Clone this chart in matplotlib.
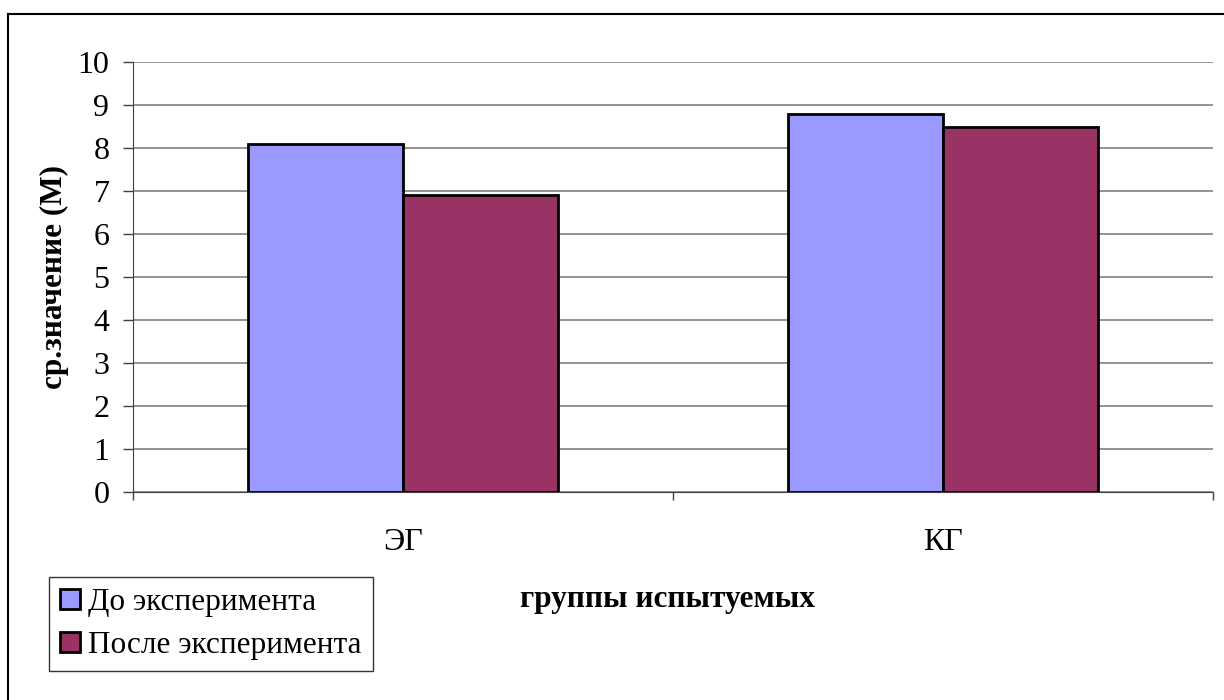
import numpy as np
import matplotlib
matplotlib.use("Agg")
import matplotlib.pyplot as plt
from matplotlib.lines import Line2D

# data
groups = ["ЭГ", "КГ"]
series_names = ["До эксперимента", "После эксперимента"]
before = [8.1, 8.8]
after = [6.9, 8.5]
colors = ["#9999FF", "#993366"]
y_ticks = list(range(0, 11))

plt.rcParams['font.family'] = ['Liberation Serif', 'DejaVu Serif']

fig = plt.figure(figsize=(12.24, 7.0), dpi=100)
ax = fig.add_axes([133 / 1224, 208 / 700, 1080 / 1224, 430 / 700])

x = np.arange(len(groups))
w = 155 / 540
ax.bar(x - w / 2, before, width=w, color=colors[0], edgecolor="black",
       linewidth=2, label=series_names[0], zorder=3)
ax.bar(x + w / 2, after, width=w, color=colors[1], edgecolor="black",
       linewidth=2, label=series_names[1], zorder=3)

ax.set_xlim(-0.5, len(groups) - 0.5)
ax.set_ylim(0, 10)
ax.set_yticks(y_ticks)
ax.set_yticklabels([str(v) for v in y_ticks], fontsize=23)
ax.yaxis.grid(True, color="#808080", linewidth=1.2, zorder=0)
ax.tick_params(axis="y", length=7, width=1, color="#404040", pad=10)

# category labels between tick marks, like Excel
ax.set_xticks([-0.5, 0.5, 1.5])
ax.set_xticklabels([])
ax.set_xticks(x, minor=True)
ax.set_xticklabels(groups, minor=True, fontsize=23)
ax.tick_params(axis="x", which="major", length=6, width=1, color="#404040")
ax.tick_params(axis="x", which="minor", length=0, pad=26)

for side in ["top", "right"]:
    ax.spines[side].set_visible(False)
ax.spines["left"].set_color("#404040")
ax.spines["bottom"].set_color("#404040")

ax.set_ylabel("ср.значение (М)", fontsize=22.5, fontweight="bold", labelpad=6)
fig.text(667 / 1224, 1 - 599 / 700, "группы испытуемых", fontsize=22.5,
         fontweight="bold", ha="center", va="center")

leg = fig.legend(loc="upper left", bbox_to_anchor=(49 / 1224, 1 - 577 / 700),
                 fontsize=22.5, frameon=True, fancybox=False, edgecolor="black",
                 handlelength=0.65, handleheight=0.65, handletextpad=0.25,
                 borderpad=0.35, labelspacing=0.45, borderaxespad=0)
leg.get_frame().set_linewidth(1)

# outer chart border (cut at right and bottom)
fig.add_artist(Line2D([8 / 1224, 8 / 1224], [0, 1 - 14 / 700],
                      transform=fig.transFigure, color="black", linewidth=1.5))
fig.add_artist(Line2D([8 / 1224, 1], [1 - 14 / 700, 1 - 14 / 700],
                      transform=fig.transFigure, color="black", linewidth=1.5))

fig.savefig("out.png", dpi=100, facecolor="white")
